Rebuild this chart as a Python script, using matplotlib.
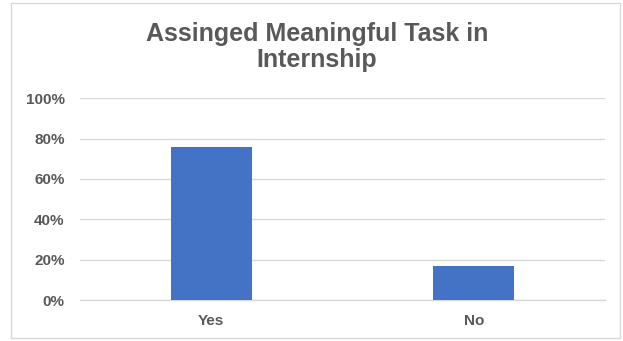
import matplotlib
matplotlib.use("Agg")
import matplotlib.pyplot as plt
from matplotlib.patches import Rectangle
from matplotlib.ticker import PercentFormatter

categories = ["Yes", "No"]
values = [0.76, 0.17]
yticks = [0, 0.2, 0.4, 0.6, 0.8, 1.0]
title = "Assinged Meaningful Task in\nInternship"

plt.rcParams['font.family'] = ['Liberation Sans', 'DejaVu Sans']
W, H = 623, 341
fig = plt.figure(figsize=(W/100, H/100), dpi=100)
fig.patches.append(Rectangle((11/W, 3/H), (620-11)/W, (338-3)/H, transform=fig.transFigure,
                             fill=False, edgecolor='#d9d9d9', linewidth=1.0))

ax = fig.add_axes([80/W, 41/H, (605-80)/W, (300-98.3)/H])
x = range(len(categories))
ax.bar(x, values, width=0.31, color='#4472C4', zorder=3)
ax.set_xlim(-0.5, 1.5)
ax.set_ylim(0, 1.0)
ax.set_yticks(yticks)
ax.yaxis.set_major_formatter(PercentFormatter(1.0, decimals=0))
ax.set_xticks(list(x))
ax.set_xticklabels(categories)
ax.grid(axis='y', color='#d9d9d9', linewidth=1.0, zorder=0)
for s in ['top', 'right', 'left']:
    ax.spines[s].set_visible(False)
ax.spines['bottom'].set_color('#d9d9d9')
ax.spines['bottom'].set_linewidth(1.0)
ax.tick_params(axis='both', length=0, labelsize=11, labelcolor='#595959')
ax.tick_params(axis='y', pad=11)
ax.tick_params(axis='x', pad=10)
for lab in ax.get_xticklabels() + ax.get_yticklabels():
    lab.set_fontweight('bold')

fig.text(317/W, 1 - 47/H, title, ha='center', va='center', fontsize=18, fontweight='bold',
         color='#595959', linespacing=1.15)

fig.savefig("out.png", dpi=100)
